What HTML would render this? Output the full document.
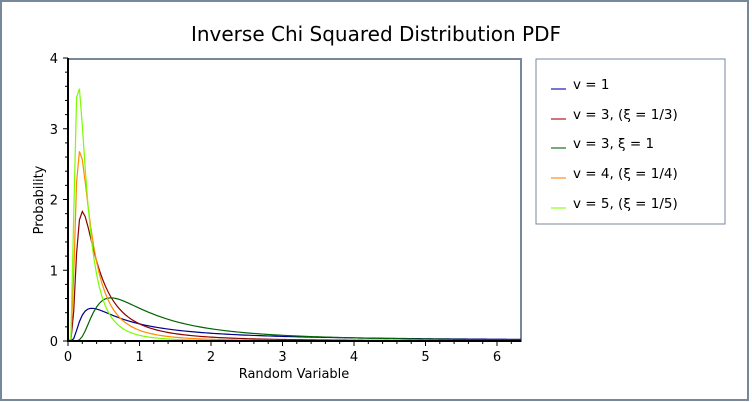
<!DOCTYPE html>
<html><head><meta charset="utf-8"><style>
body{margin:0;background:#fff}
svg{display:block;font-family:"DejaVu Sans","Liberation Sans",sans-serif}
</style></head><body>
<svg id="s" width="752" height="402" viewBox="0 0 752 402" xmlns="http://www.w3.org/2000/svg">
<defs><clipPath id="cp"><rect x="68" y="58" width="453" height="283"/></clipPath></defs>
<rect x="1" y="1" width="747" height="399" fill="#fff" stroke="#778899" stroke-width="2"/>
<text x="376" y="41" text-anchor="middle" font-size="20" fill="#000">Inverse Chi Squared Distribution PDF</text>
<rect x="68" y="59" width="453" height="282" fill="#fff" stroke="#778899" stroke-width="2"/>
<g id="curves" clip-path="url(#cp)"></g>
<g id="ax"></g>
<line x1="68" y1="58" x2="68" y2="342" stroke="#000" stroke-width="2"/>
<line x1="67" y1="341" x2="521" y2="341" stroke="#000" stroke-width="2"/>
<text x="294" y="378" text-anchor="middle" font-size="13">Random Variable</text>
<text transform="translate(43,200) rotate(-90)" text-anchor="middle" font-size="13">Probability</text>
<rect x="536" y="59" width="189" height="165" fill="#fff" stroke="#778899" stroke-width="1"/>
<g font-size="13.5">
<line x1="551" y1="89" x2="566" y2="89" stroke="#7777cc" stroke-width="2"/><text x="573" y="89">v = 1</text>
<line x1="551" y1="119" x2="566" y2="119" stroke="#cc7777" stroke-width="2"/><text x="573" y="119">v = 3, (ξ = 1/3)</text>
<line x1="551" y1="148" x2="566" y2="148" stroke="#77aa77" stroke-width="2"/><text x="573" y="148">v = 3, ξ = 1</text>
<line x1="551" y1="178" x2="566" y2="178" stroke="#ffbb77" stroke-width="2"/><text x="573" y="178">v = 4, (ξ = 1/4)</text>
<line x1="551" y1="208" x2="566" y2="208" stroke="#bbff77" stroke-width="2"/><text x="573" y="208">v = 5, (ξ = 1/5)</text>
</g>
</svg>
<script>
const NS="http://www.w3.org/2000/svg";
const X=x=>68+x*71.5, Y=y=>341-y*70.75;
function gam(n){
 if(Math.abs(n-0.5)<1e-9) return Math.sqrt(Math.PI);
 if(Math.abs(n-1)<1e-9) return 1; return (n-1)*gam(n-1);}
function pdf(x,v,t2){ if(x<=0) return 0; const h=v/2;
 return Math.pow(t2*h,h)/gam(h)*Math.exp(-v*t2/(2*x))/Math.pow(x,1+h);}
const series=[[1,1,"#00008b"],[3,1/3,"#8b0000"],[3,1,"#006400"],[4,1/4,"#ff8c00"],[5,1/5,"#7cfc00"]];
const g=document.getElementById("curves");
series.forEach(([v,t,c])=>{let d="";for(let i=0;i<=160;i++){const x=i*0.04;let y=pdf(x,v,t);
 d+=(i?"L":"M")+X(x).toFixed(2)+","+Y(y).toFixed(2);}
 const p=document.createElementNS(NS,"path");p.setAttribute("d",d);p.setAttribute("fill","none");
 p.setAttribute("stroke",c);p.setAttribute("stroke-width","1.2");g.appendChild(p);});
const a=document.getElementById("ax");
function ln(x1,y1,x2,y2){const l=document.createElementNS(NS,"line");l.setAttribute("x1",x1);l.setAttribute("y1",y1);l.setAttribute("x2",x2);l.setAttribute("y2",y2);l.setAttribute("stroke","#000");a.appendChild(l);}
function tx(x,y,s,an){const t=document.createElementNS(NS,"text");t.setAttribute("x",x);t.setAttribute("y",y);t.setAttribute("font-size","13");t.setAttribute("text-anchor",an);t.textContent=s;a.appendChild(t);}
for(let i=0;i<=31;i++){const x=X(i/5);ln(x,341,x,i%5?344:346);}
for(let i=0;i<=6;i++)tx(X(i),361,String(i),"middle");
for(let i=0;i<=20;i++){const y=Y(i/5);ln(i%5?65:63,y,68,y);}
for(let i=0;i<=4;i++)tx(58,Y(i)+5,String(i),"end");
</script>
</body></html>
